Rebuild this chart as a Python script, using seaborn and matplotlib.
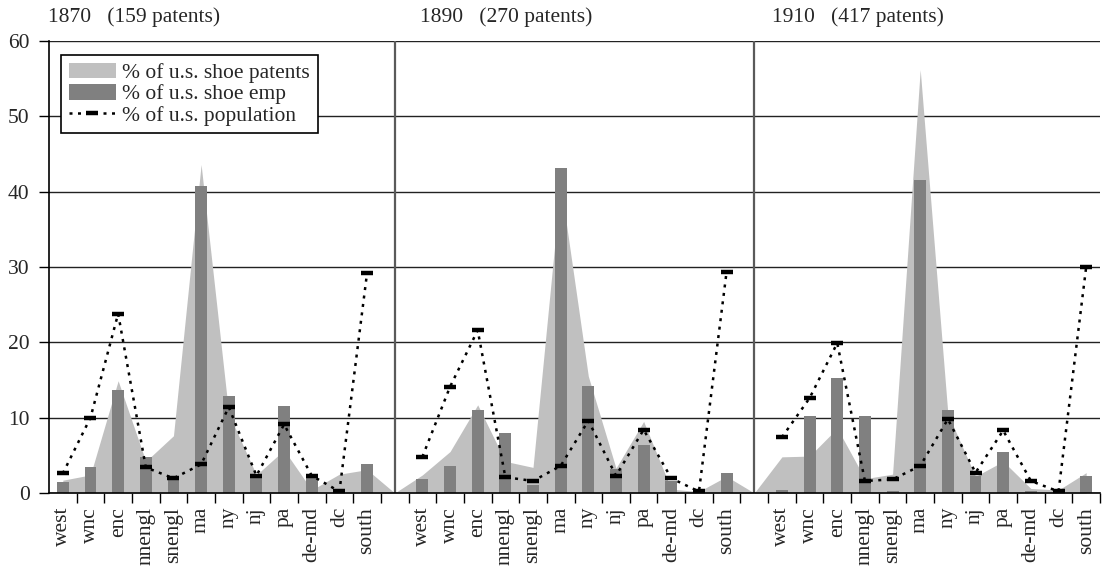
import pandas as pd
import matplotlib.pyplot as plt
import matplotlib.transforms as mtransforms
from matplotlib.patches import Patch
from matplotlib.lines import Line2D
import seaborn as sns

REGIONS = ['west', 'wnc', 'enc', 'nnengl', 'snengl', 'ma',
           'ny', 'nj', 'pa', 'de-md', 'dc', 'south']
YEARS = [1870, 1890, 1910]
N_PATENTS = [159, 270, 417]

# % of u.s. shoe patents
PATENTS_1870 = [1.7, 2.4, 14.9, 4.2, 7.6, 43.6, 10.5, 2.4, 5.7, 0.4, 2.5, 3.1]
PATENTS_1890 = [2.4, 5.5, 11.7, 4.2, 3.4, 41.0, 15.5, 3.3, 9.5, 0.5, 0.2, 2.2]
PATENTS_1910 = [4.8, 4.9, 8.6, 1.9, 2.5, 56.2, 10.5, 2.2, 4.2, 0.6, 0.4, 2.7]

# % of u.s. shoe emp
EMP_1870 = [1.4, 3.5, 13.7, 4.8, 2.1, 40.8, 12.9, 2.3, 11.6, 2.5, 0.3, 3.9]
EMP_1890 = [1.9, 3.6, 11.0, 8.0, 1.0, 43.2, 14.2, 3.2, 6.4, 1.6, 0.15, 2.7]
EMP_1910 = [0.35, 10.2, 15.2, 10.2, 0.25, 41.6, 11.0, 2.2, 5.5, 0.3, 0.15, 2.2]

# % of u.s. population
POP_1870 = [2.6, 10.0, 23.8, 3.4, 1.95, 3.8, 11.4, 2.3, 9.1, 2.3, 0.2, 29.2]
POP_1890 = [4.8, 14.1, 21.6, 2.1, 1.6, 3.6, 9.6, 2.3, 8.4, 1.95, 0.2, 29.4]
POP_1910 = [7.4, 12.6, 19.9, 1.6, 1.8, 3.6, 9.8, 2.7, 8.3, 1.6, 0.2, 30.0]

LIGHT = '#c0c0c0'
DARK = '#808080'
FONT = ['Liberation Serif', 'DejaVu Serif']
DOTS = (0, (1.2, 2.2))


def build_frame():
    # one long category axis: 12 regions, blank slot, 12 regions, blank, 12
    rows = []
    slot = 0
    panels = list(zip(YEARS, [PATENTS_1870, PATENTS_1890, PATENTS_1910],
                      [EMP_1870, EMP_1890, EMP_1910],
                      [POP_1870, POP_1890, POP_1910]))
    for i, (year, pat, emp, pop) in enumerate(panels):
        for r, p, e, q in zip(REGIONS, pat, emp, pop):
            rows.append(dict(slot=slot, year=year, region=r,
                             patents=p, emp=e, pop=q))
            slot += 1
        if i < len(panels) - 1:
            rows.append(dict(slot=slot, year=None, region='',
                             patents=0.0, emp=None, pop=None))
            slot += 1
    return pd.DataFrame(rows)


def main():
    df = build_frame()
    n = len(df)

    sns.set_theme(style='white')
    plt.rcParams['font.family'] = FONT
    plt.rcParams['font.size'] = 15

    fig = plt.figure(figsize=(11.02, 5.69), dpi=100)
    ax = fig.add_axes([49 / 1102, 76 / 569, 1051 / 1102, 452 / 569])

    ax.fill_between(df['slot'], df['patents'], color=LIGHT, lw=0, zorder=1)

    sns.barplot(data=df, x='slot', y='emp', order=list(range(n)),
                color=DARK, saturation=1, width=0.43, linewidth=0,
                errorbar=None, zorder=2, ax=ax)

    pop = df.dropna(subset=['pop'])
    sns.lineplot(data=pop, x='slot', y='pop', units='year', estimator=None,
                 color='black', linestyle=DOTS, linewidth=1.8,
                 marker='_', markersize=8, markeredgewidth=3.2,
                 markeredgecolor='black', markerfacecolor='black',
                 zorder=3, ax=ax)

    seps = df.loc[df['region'] == '', 'slot']
    ax.vlines(seps, 0, 60, color='#5a5a5a', lw=1.6, zorder=4)

    ax.set_xlim(-0.5, n - 0.5)
    ax.set_ylim(0, 60)
    ax.set_yticks(range(0, 61, 10))
    ax.yaxis.grid(True, color='#222222', lw=1.0)
    ax.set_axisbelow(True)

    labeled = df[df['region'] != '']
    ax.set_xticks(labeled['slot'])
    ax.set_xticklabels(labeled['region'], rotation=90, va='top')
    ax.set_xticks([s + 0.5 for s in range(n)], minor=True)
    ax.tick_params(axis='x', which='major', length=0, pad=10, labelsize=15.5)
    ax.tick_params(axis='x', which='minor', length=7, width=1,
                   direction='out', bottom=True, color='black')
    ax.tick_params(axis='y', length=7, width=1, direction='out', left=True,
                   pad=7, labelsize=15.5, color='black')
    ax.set_xlabel('')
    ax.set_ylabel('')

    for side in ['top', 'right']:
        ax.spines[side].set_visible(False)
    for side in ['left', 'bottom']:
        ax.spines[side].set_color('black')
        ax.spines[side].set_linewidth(1.2)
        ax.spines[side].set_zorder(5)

    # panel titles
    trans = mtransforms.blended_transform_factory(ax.transData, ax.transAxes)
    starts = df.groupby('year')['slot'].min().tolist()
    shifts = [-0.05, 0.4, 0.15]
    for year, npat, s, sh in zip(YEARS, N_PATENTS, starts, shifts):
        ax.text(s - 0.5 + sh, 1.052, f'{year}   ({npat} patents)',
                transform=trans, ha='left', va='center', fontsize=15.5)

    handles = [
        Patch(facecolor=LIGHT, edgecolor='none'),
        Patch(facecolor=DARK, edgecolor='none'),
        Line2D([], [], color='black', linestyle=DOTS, lw=1.8,
               marker='_', markersize=8, markeredgewidth=3.2),
    ]
    labels = ['% of u.s. shoe patents', '% of u.s. shoe emp',
              '% of u.s. population']
    leg = ax.legend(handles, labels, loc='upper left',
                    bbox_to_anchor=(0.0114, 0.969), borderaxespad=0,
                    frameon=True, fancybox=False, edgecolor='black',
                    framealpha=1, fontsize=15.5, handlelength=2.2,
                    handleheight=0.75, handletextpad=0.3, labelspacing=0.05,
                    borderpad=0.35)
    leg.get_frame().set_linewidth(1.2)
    leg.set_zorder(10)

    fig.savefig('out.png', dpi=100)


if __name__ == '__main__':
    main()
